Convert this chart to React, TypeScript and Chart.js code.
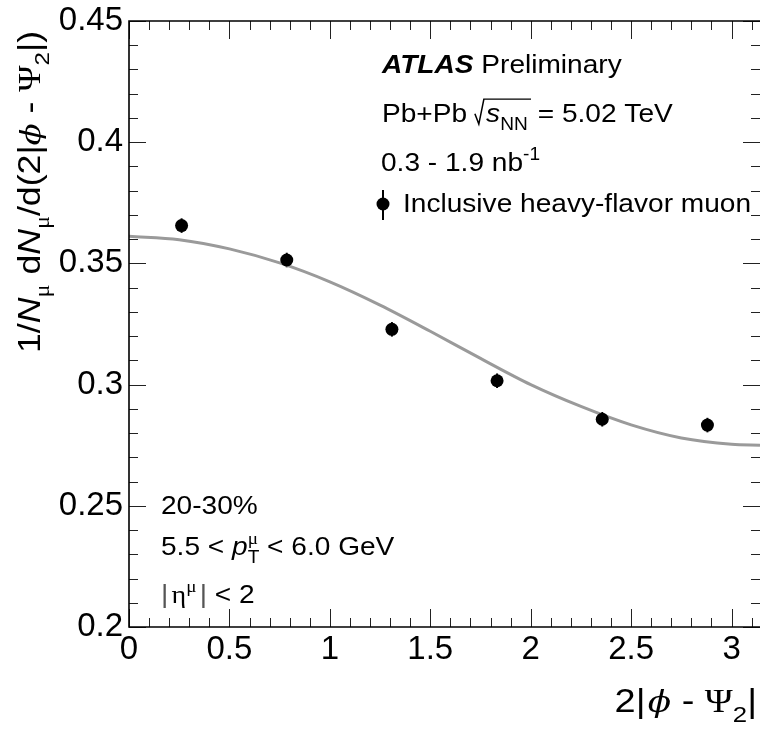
import React, { useEffect, useRef } from "react";
import { Chart, registerables } from "chart.js";

Chart.register(...registerables);

// Measured yield per 2|phi - Psi2| bin (bin centres of six equal bins on [0, pi])
const binCenters = [0.2618, 0.7854, 1.309, 1.8326, 2.3562, 2.8798];
const muonYield = [0.3656, 0.3514, 0.3228, 0.3016, 0.2857, 0.2833];
const muonErr = [0.003, 0.003, 0.003, 0.003, 0.003, 0.003];

// Fit curve sampled along the x range
const fitX = [0, 0.25, 0.5, 0.75, 1.0, 1.25, 1.5, 1.75, 2.0, 2.25, 2.5, 2.75, 3.0, 3.1416];
const fitY = [0.3612, 0.3598, 0.356, 0.3502, 0.3424, 0.3328, 0.322, 0.3108, 0.3, 0.291, 0.2834, 0.278, 0.2754, 0.275];

// Axis ranges and tick labels
const xRange = [0, Math.PI];
const yRange = [0.2, 0.45];
const xTickLabels = ["0", "0.5", "1", "1.5", "2", "2.5", "3"];
const yTickLabels = ["0.2", "0.25", "0.3", "0.35", "0.4", "0.45"];

const SANS = "'Liberation Sans', Arial, Helvetica, sans-serif";
const SERIF = "'Liberation Serif', 'DejaVu Serif', serif";
const DSERIF = "'DejaVu Serif', serif";

type Seg = {
  t?: string;
  fam?: string;
  it?: boolean;
  b?: boolean;
  pos?: "sub" | "sup";
  rel?: number;
  stack?: boolean; // no advance after this piece
  rad?: number; // radical covering the next `rad` pieces
  gap?: number;
  color?: string;
};

function segFont(s: Seg, size: number) {
  const rel = s.rel ?? (s.pos ? 0.68 : 1);
  return `${s.it ? "italic " : ""}${s.b ? "bold " : ""}${(size * rel).toFixed(1)}px ${s.fam ?? SANS}`;
}

function drawRich(
  ctx: CanvasRenderingContext2D,
  segs: Seg[],
  x: number,
  y: number,
  size: number,
  sx: number,
  align: "left" | "right" = "left"
) {
  const widths: number[] = [];
  let total = 0;
  segs.forEach((s) => {
    let w = 0;
    if (s.gap !== undefined) w = s.gap;
    else if (s.rad !== undefined) w = size * 0.4;
    else {
      ctx.font = segFont(s, size);
      w = ctx.measureText(s.t ?? "").width;
    }
    widths.push(w);
    if (!s.stack) total += w;
  });
  ctx.save();
  ctx.translate(x, y);
  ctx.scale(sx, 1);
  ctx.textBaseline = "alphabetic";
  ctx.textAlign = "left";
  let cx = align === "right" ? -total : 0;
  segs.forEach((s, i) => {
    if (s.rad !== undefined) {
      let cover = 0;
      for (let k = i + 1; k <= i + s.rad; k++) if (!segs[k].stack) cover += widths[k];
      const w = widths[i];
      ctx.strokeStyle = "#000";
      ctx.lineWidth = 1.4;
      ctx.beginPath();
      ctx.moveTo(cx, -size * 0.32);
      ctx.lineTo(cx + w * 0.35, size * 0.08);
      ctx.lineTo(cx + w * 0.8, -size * 0.88);
      ctx.lineTo(cx + w + cover + 1, -size * 0.88);
      ctx.stroke();
    } else if (s.t) {
      ctx.font = segFont(s, size);
      ctx.fillStyle = s.color ?? "#000";
      const dy = s.pos === "sub" ? size * 0.3 : s.pos === "sup" ? -size * 0.42 : 0;
      ctx.fillText(s.t, cx, dy);
    }
    if (!s.stack) cx += widths[i];
  });
  ctx.restore();
}

const decorPlugin = {
  id: "atlasDecor",
  beforeDatasetsDraw(chart: any) {
    const { ctx } = chart;
    const xs = chart.scales.x;
    const ys = chart.scales.y;
    ctx.save();
    ctx.strokeStyle = "#000";
    ctx.lineWidth = 2;
    binCenters.forEach((xv, i) => {
      const px = xs.getPixelForValue(xv);
      ctx.beginPath();
      ctx.moveTo(px, ys.getPixelForValue(muonYield[i] - muonErr[i]));
      ctx.lineTo(px, ys.getPixelForValue(muonYield[i] + muonErr[i]));
      ctx.stroke();
    });
    ctx.restore();
  },
  afterDatasetsDraw(chart: any) {
    const { ctx, chartArea } = chart;
    const xs = chart.scales.x;
    const ys = chart.scales.y;
    const { left, right, top, bottom } = chartArea;
    ctx.save();
    ctx.strokeStyle = "#222";
    ctx.lineWidth = 1;
    // x ticks, bottom and top, every 0.1 with majors every 0.5
    for (let i = 0; i <= 31; i++) {
      const px = Math.round(xs.getPixelForValue(i / 10)) + 0.5;
      const len = i % 5 === 0 ? 18 : 9;
      ctx.beginPath();
      ctx.moveTo(px, bottom);
      ctx.lineTo(px, bottom - len);
      ctx.moveTo(px, top);
      ctx.lineTo(px, top + len);
      ctx.stroke();
    }
    // y ticks, left and right, every 0.01 with majors every 0.05
    for (let i = 20; i <= 45; i++) {
      const py = Math.round(ys.getPixelForValue(i / 100)) + 0.5;
      const len = i % 5 === 0 ? 17 : 9;
      ctx.beginPath();
      ctx.moveTo(left, py);
      ctx.lineTo(left + len, py);
      ctx.moveTo(right, py);
      ctx.lineTo(right - len, py);
      ctx.stroke();
    }
    // frame
    ctx.strokeStyle = "#000";
    ctx.lineWidth = 1.6;
    ctx.beginPath();
    ctx.moveTo(right, top);
    ctx.lineTo(left, top);
    ctx.lineTo(left, bottom);
    ctx.lineTo(right, bottom);
    ctx.stroke();
    ctx.restore();
  },
  afterDraw(chart: any) {
    const { ctx } = chart;
    const T = 26;
    const SX = 1.08;

    drawRich(ctx, [{ t: "ATLAS", b: true, it: true }, { t: " Preliminary" }], 382, 73, T, SX);
    drawRich(
      ctx,
      [
        { t: "Pb+Pb " },
        { rad: 3 },
        { t: "s", it: true },
        { t: "NN", pos: "sub" },
        { gap: 2 },
        { t: " = 5.02 TeV" },
      ],
      382,
      122,
      T,
      SX
    );
    drawRich(ctx, [{ t: "0.3 - 1.9 nb" }, { t: "-1", pos: "sup" }], 381, 171, T, SX);

    // legend entry
    ctx.save();
    ctx.strokeStyle = "#000";
    ctx.lineWidth = 2;
    ctx.beginPath();
    ctx.moveTo(383, 190);
    ctx.lineTo(383, 220);
    ctx.stroke();
    ctx.fillStyle = "#000";
    ctx.beginPath();
    ctx.arc(383, 204, 6.5, 0, Math.PI * 2);
    ctx.fill();
    ctx.restore();
    drawRich(ctx, [{ t: "Inclusive heavy-flavor muon" }], 403, 212, T, SX);

    // selection labels
    drawRich(ctx, [{ t: "20-30%" }], 161, 514, T, SX);
    drawRich(
      ctx,
      [
        { t: "5.5 < " },
        { t: "p", it: true },
        { t: "\u03bc", fam: SERIF, pos: "sup", stack: true },
        { t: "T", pos: "sub" },
        { t: " < 6.0 GeV" },
      ],
      161,
      555,
      T,
      SX
    );
    drawRich(
      ctx,
      [
        { t: "|", fam: SANS, color: "#555" },
        { gap: 3 },
        { t: "\u03b7", fam: SERIF },
        { t: "\u03bc", fam: SERIF, pos: "sup" },
        { gap: 3 },
        { t: "|", fam: SANS, color: "#555" },
        { t: " < 2", fam: SANS },
      ],
      161,
      603,
      T,
      SX
    );

    // x-axis title
    drawRich(
      ctx,
      [
        { t: "2|" },
        { gap: 2 },
        { t: "\u03d5", fam: DSERIF, it: true, rel: 0.9 },
        { t: " - " },
        { t: "\u03a8", fam: SERIF },
        { t: "2", pos: "sub" },
        { t: "|" },
      ],
      757,
      712,
      33,
      1.15,
      "right"
    );

    // y-axis title, rotated
    ctx.save();
    ctx.translate(40, 353);
    ctx.rotate(-Math.PI / 2);
    drawRich(
      ctx,
      [
        { t: "1/" },
        { t: "N", it: true },
        { t: "\u03bc", fam: SERIF, pos: "sub" },
        { t: " d" },
        { t: "N", it: true },
        { t: "\u03bc", fam: SERIF, pos: "sub" },
        { t: "/d(2|" },
        { t: "\u03d5", fam: DSERIF, it: true, rel: 0.9 },
        { t: " - " },
        { t: "\u03a8", fam: SERIF },
        { t: "2", pos: "sub" },
        { t: "|)" },
      ],
      0,
      0,
      31,
      1.15
    );
    ctx.restore();
  },
};

export default function App() {
  const canvasRef = useRef<HTMLCanvasElement | null>(null);

  useEffect(() => {
    const canvas = canvasRef.current;
    if (!canvas) return;
    const chart = new Chart(canvas, {
      type: "scatter",
      data: {
        datasets: [
          {
            label: "Inclusive heavy-flavor muon",
            data: binCenters.map((x, i) => ({ x, y: muonYield[i] })),
            pointRadius: 6.5,
            pointHoverRadius: 6.5,
            pointBackgroundColor: "#000",
            pointBorderWidth: 0,
            showLine: false,
          },
          {
            label: "fit",
            data: fitX.map((x, i) => ({ x, y: fitY[i] })),
            showLine: true,
            borderColor: "#9a9a9a",
            borderWidth: 3,
            pointRadius: 0,
            cubicInterpolationMode: "monotone",
            fill: false,
          },
        ],
      },
      options: {
        responsive: false,
        animation: false,
        devicePixelRatio: 1,
        layout: { autoPadding: false, padding: { left: 0, right: 0, top: 21, bottom: 0 } },
        plugins: {
          legend: { display: false },
          tooltip: { enabled: false },
        },
        scales: {
          x: {
            type: "linear",
            min: xRange[0],
            max: xRange[1],
            grid: { display: false, drawTicks: false },
            border: { display: false },
            ticks: {
              stepSize: 0.5,
              includeBounds: false,
              autoSkip: false,
              maxRotation: 0,
              padding: 3,
              color: "#000",
              font: { family: SANS, size: 33 },
              callback: (_v: any, i: number) => xTickLabels[i] ?? "",
            },
            afterFit: (s: any) => {
              s.height = 107;
              s.paddingLeft = 0;
              s.paddingRight = 0;
            },
          },
          y: {
            type: "linear",
            min: yRange[0],
            max: yRange[1],
            grid: { display: false, drawTicks: false },
            border: { display: false },
            ticks: {
              stepSize: 0.05,
              includeBounds: false,
              autoSkip: false,
              padding: 6,
              color: "#000",
              font: { family: SANS, size: 33 },
              callback: (_v: any, i: number) => yTickLabels[i] ?? "",
            },
            afterFit: (s: any) => {
              s.width = 129;
              s.paddingTop = 0;
              s.paddingBottom = 0;
            },
          },
        },
      },
      plugins: [decorPlugin],
    } as any);
    return () => chart.destroy();
  }, []);

  return (
    <div style={{ position: "absolute", left: 0, top: 0, width: 760, height: 734, background: "#fff" }}>
      <canvas ref={canvasRef} width={760} height={734} style={{ display: "block" }} />
    </div>
  );
}
